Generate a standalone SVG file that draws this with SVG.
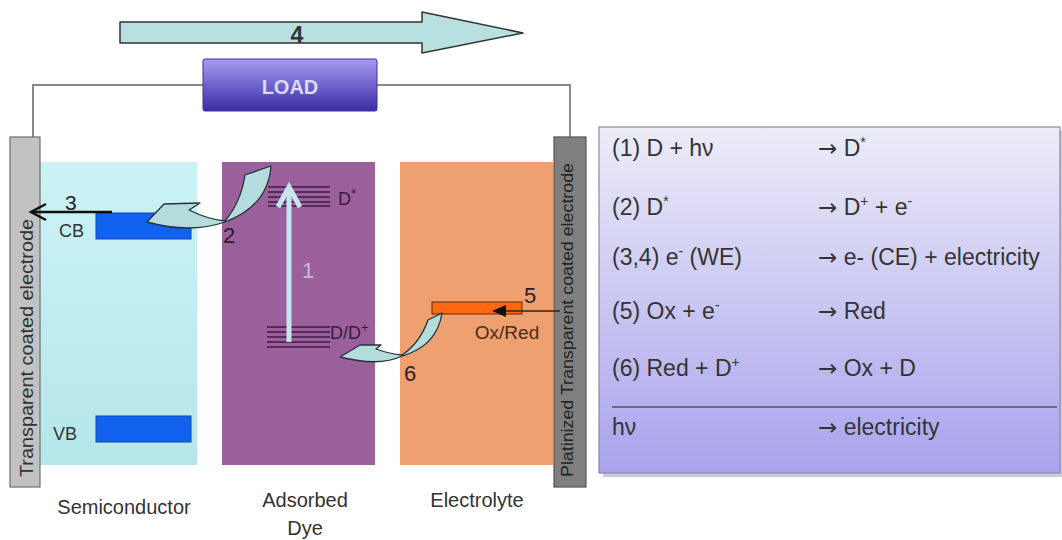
<svg xmlns="http://www.w3.org/2000/svg" width="1062" height="540" viewBox="0 0 1062 540">
<style>
text{font-family:"Liberation Sans",Arial,sans-serif}
.lbl{font-size:18px;fill:#333}
.cap{font-size:20px;fill:#333}
.pt{font-size:23px;fill:#333}
.ar{font-family:"DejaVu Sans",sans-serif}
.num{font-size:22px;fill:#2a1c2e}
.lvl{stroke:#3d1a45;stroke-width:1.7}
.curve{fill:#b4dcdc;stroke:#23323a;stroke-width:1.3;stroke-linejoin:round}
.sup{font-size:14px}
</style>
<defs>
<linearGradient id="gLoad" x1="0" y1="0" x2="0" y2="1"><stop offset="0" stop-color="#a59cf0"/><stop offset="1" stop-color="#3a2ca8"/></linearGradient>
<linearGradient id="gSemi" x1="0" y1="0" x2="0" y2="1"><stop offset="0" stop-color="#cbf3f7"/><stop offset="1" stop-color="#b6e6ea"/></linearGradient>
<linearGradient id="gPanel" x1="0" y1="0" x2="0" y2="1"><stop offset="0" stop-color="#ececf8"/><stop offset="1" stop-color="#a9a3ec"/></linearGradient>
</defs>

<g id="arrow4">
<path d="M120,22 L422,22 L422,12 L523,33 L422,53 L422,43 L120,43 Z" fill="#b8e0e0" stroke="#333" stroke-width="1.5" stroke-linejoin="round"/>
<text x="297" y="43" font-size="23" font-weight="bold" fill="#333" text-anchor="middle">4</text>
</g>

<g id="connectors">
<polyline points="33,137 33,85 570,85 570,137" fill="none" stroke="#8a8a8a" stroke-width="2"/>
</g>

<g id="load">
<rect x="203" y="59" width="174" height="52" rx="2" fill="url(#gLoad)" stroke="#3a3390" stroke-width="1"/>
<text x="290" y="94" font-size="20" font-weight="bold" fill="#dcdaf8" text-anchor="middle">LOAD</text>
</g>

<g id="semiconductor">
<rect x="40" y="162" width="157" height="303" fill="url(#gSemi)"/>
<rect x="96" y="213" width="95" height="26" fill="#1262f0" stroke="#0a46b8" stroke-width="1"/>
<text x="59" y="237" class="lbl">CB</text>
<rect x="96" y="416" width="95" height="26" fill="#1262f0" stroke="#0a46b8" stroke-width="1"/>
<text x="53" y="440" class="lbl">VB</text>
</g>

<g id="dye">
<rect x="222" y="162" width="153" height="303" fill="#9b609b"/>
<line x1="268" y1="187" x2="330" y2="187" class="lvl"/>
<line x1="268" y1="192" x2="330" y2="192" class="lvl"/>
<line x1="268" y1="197" x2="330" y2="197" class="lvl"/>
<line x1="268" y1="202" x2="330" y2="202" class="lvl"/>
<line x1="268" y1="206" x2="330" y2="206" class="lvl"/>
<text x="338" y="205" font-size="18" fill="#3a1a40">D<tspan font-size="13" dy="-7">*</tspan></text>
<line x1="267" y1="327" x2="330" y2="327" class="lvl"/>
<line x1="267" y1="332" x2="330" y2="332" class="lvl"/>
<line x1="267" y1="337" x2="330" y2="337" class="lvl"/>
<line x1="267" y1="342" x2="330" y2="342" class="lvl"/>
<line x1="267" y1="347" x2="330" y2="347" class="lvl"/>
<text x="330" y="339" font-size="18" fill="#3a1a40">D/D<tspan font-size="13" dy="-7">+</tspan></text>
<text x="308" y="278" font-size="22" fill="#cdb6d6" text-anchor="middle">1</text>
</g>

<g id="electrolyte">
<rect x="400" y="162" width="153" height="303" fill="#eea071"/>
<rect x="432" y="302" width="90" height="12" fill="#ff6812" stroke="#5a2a10" stroke-width="1"/>
<text x="507" y="339" font-size="19" fill="#4a2a18" text-anchor="middle">Ox/Red</text>
</g>

<g id="electrode-left">
<rect x="10" y="137" width="30" height="350" fill="#c2c2c2" stroke="#6e6e6e" stroke-width="1.2"/>
<text transform="translate(33,348) rotate(-90)" font-size="19" fill="#333" text-anchor="middle" textLength="258" lengthAdjust="spacingAndGlyphs">Transparent coated electrode</text>
</g>

<g id="electrode-right">
<rect x="554" y="137" width="32" height="350" fill="#7f7f7f" stroke="#555" stroke-width="1.2"/>
<text transform="translate(573,320) rotate(-90)" font-size="17" fill="#222" text-anchor="middle" textLength="314" lengthAdjust="spacingAndGlyphs">Platinized Transparent coated electrode</text>
</g>

<g id="process-arrows">
<line x1="112" y1="212" x2="31" y2="212" stroke="#111" stroke-width="2.5"/>
<polyline points="46,204 31,212 46,220" fill="none" stroke="#111" stroke-width="2.5"/>
<text x="65" y="210" font-size="21" fill="#222">3</text>
<line x1="289" y1="342" x2="289" y2="188" stroke="#c8e4ec" stroke-width="5"/>
<polyline points="278,207 289,187 300,207" fill="none" stroke="#c8e4ec" stroke-width="5"/>
<path d="M147,222 L164,204 L200,203 L189,210 Q207,219 225,221 Q241,202 245,175 L271,166 Q268,206 225,222 Q190,234 147,222 Z" class="curve"/>
<text x="223" y="243" class="num">2</text>
<line x1="560" y1="311" x2="500" y2="311" stroke="#3a2010" stroke-width="1.3"/>
<path d="M492,311 L506,305 L506,317 Z" fill="#111"/>
<text x="524" y="303" class="num">5</text>
<path d="M340,357 L360,345 L381,345 L376,349 Q390,354 402,355 Q420,343 428,320 L442,313 Q437,346 402,356 Q380,367 340,357 Z" class="curve"/>
<text x="404" y="381" class="num">6</text>
</g>

<g id="labels">
<text x="124" y="514" class="cap" text-anchor="middle">Semiconductor</text>
<text x="305" y="507" class="cap" text-anchor="middle">Adsorbed</text>
<text x="305" y="535" class="cap" text-anchor="middle">Dye</text>
<text x="477" y="507" class="cap" text-anchor="middle">Electrolyte</text>
</g>

<g id="reactions">
<rect x="603" y="131" width="459" height="346" fill="#9a9ab0" opacity="0.5"/>
<rect x="599" y="127" width="461" height="346" fill="url(#gPanel)" stroke="#8a88a8" stroke-width="1.2"/>
<text x="612" y="156" class="pt">(1) D + hν</text>
<text x="818" y="156" class="pt"><tspan class="ar">→</tspan> D<tspan class="sup" dy="-9">*</tspan></text>
<text x="612" y="215" class="pt">(2) D<tspan class="sup" dy="-9">*</tspan></text>
<text x="818" y="215" class="pt"><tspan class="ar">→</tspan> D<tspan class="sup" dy="-9">+</tspan><tspan dy="9"> + e</tspan><tspan class="sup" dy="-9">-</tspan></text>
<text x="612" y="265" class="pt">(3,4) e<tspan class="sup" dy="-9">-</tspan><tspan dy="9"> (WE)</tspan></text>
<text x="818" y="265" class="pt"><tspan class="ar">→</tspan> e- (CE) + electricity</text>
<text x="612" y="319" class="pt">(5) Ox + e<tspan class="sup" dy="-9">-</tspan></text>
<text x="818" y="319" class="pt"><tspan class="ar">→</tspan> Red</text>
<text x="612" y="376" class="pt">(6) Red + D<tspan class="sup" dy="-9">+</tspan></text>
<text x="818" y="376" class="pt"><tspan class="ar">→</tspan> Ox + D</text>
<line x1="612" y1="407" x2="1057" y2="407" stroke="#555" stroke-width="1.5"/>
<text x="612" y="435" class="pt">hν</text>
<text x="818" y="435" class="pt"><tspan class="ar">→</tspan> electricity</text>
</g>
</svg>
